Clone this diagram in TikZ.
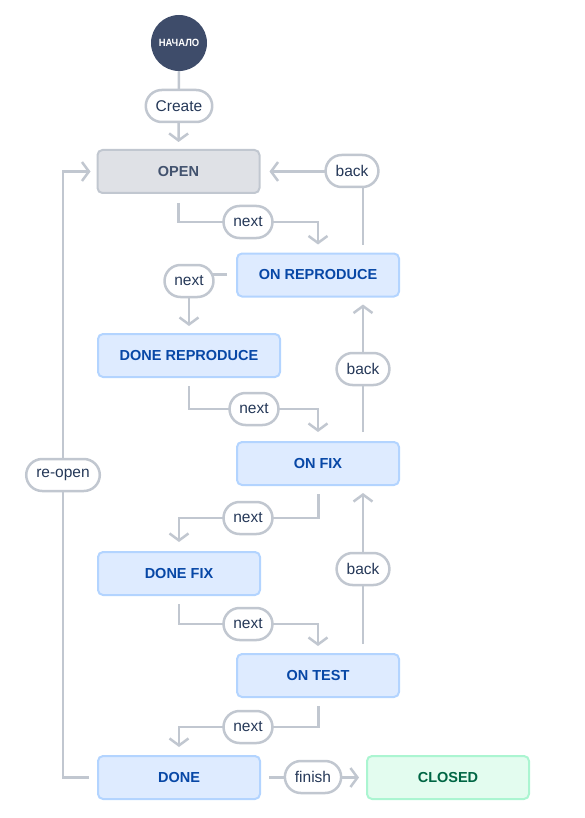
\documentclass[tikz,border=0pt]{standalone}
\usepackage{fontspec}
\setmainfont{Liberation Sans}
\usetikzlibrary{arrows.meta,shapes.misc}

\definecolor{linegray}{HTML}{C1C7D0}
\definecolor{navy}{HTML}{253858}
\definecolor{slate}{HTML}{42526E}
\definecolor{startfill}{HTML}{3E4C6A}
\definecolor{openfill}{HTML}{DFE1E6}
\definecolor{bluefill}{HTML}{DEEBFF}
\definecolor{blueline}{HTML}{B3D4FF}
\definecolor{bluetext}{HTML}{0747A6}
\definecolor{greenfill}{HTML}{E3FCEF}
\definecolor{greenline}{HTML}{ABF5D1}
\definecolor{greentext}{HTML}{006644}

\tikzset{
  state/.style={draw=blueline, fill=bluefill, line width=2pt, rounded corners=5pt,
    minimum width=162pt, minimum height=43pt, inner sep=0pt,
    text=bluetext, font=\fontsize{14.5pt}{16pt}\selectfont\bfseries},
  openstate/.style={state, draw=linegray, fill=openfill, text=slate},
  donestate/.style={state, draw=greenline, fill=greenfill, text=greentext},
  pill/.style={rounded rectangle, draw=linegray, fill=white, line width=2.5pt,
    minimum height=32pt, inner xsep=9pt, inner ysep=0pt, text=navy,
    font=\fontsize{15.5pt}{17pt}\selectfont},
  conn/.style={draw=linegray, line width=2.5pt},
  arr/.style={conn, -{Straight Barb[length=7pt, width=19pt, line width=2.5pt]}},
}

\begin{document}
\begin{tikzpicture}[x=1pt, y=-1pt]
  \useasboundingbox (0,0) rectangle (585,818);

  % start marker
  \node[circle, fill=startfill, minimum size=56pt, inner sep=0pt, text=white,
        font=\fontsize{10.5pt}{11pt}\selectfont\bfseries] (start) at (179,43)
        {\scalebox{0.9}[1]{НАЧАЛО}};

  % states
  \node[openstate] (open)    at (178.5,171.5) {OPEN};
  \node[state]     (onrep)   at (318,275)   {ON REPRODUCE};
  \node[state, minimum width=182pt] (donerep) at (189,355.5) {DONE REPRODUCE};
  \node[state]     (onfix)   at (318,463.5) {ON FIX};
  \node[state]     (donefix) at (179,573.5) {DONE FIX};
  \node[state]     (ontest)  at (318,675.5) {ON TEST};
  \node[state]     (done)    at (179,777.5) {DONE};
  \node[donestate] (closed)  at (448,777.5) {CLOSED};

  % label positions along the transitions
  \coordinate (pcreate)  at (179,106);
  \coordinate (pnext1)   at (248,222);
  \coordinate (pback1)   at (352,171);
  \coordinate (pnext2)   at (189,281);
  \coordinate (pnext3)   at (254,409);
  \coordinate (pback2)   at (363,369);
  \coordinate (pnext4)   at (248,518);
  \coordinate (pback3)   at (363,569);
  \coordinate (pnext5)   at (248,624);
  \coordinate (pnext6)   at (248,727);
  \coordinate (pfinish)  at (313,777);
  \coordinate (preopen)  at (63,475);

  % connectors (yshift is in page direction: negative moves down)
  \draw[arr, shorten >=7pt] (start.south) -- (open.north);
  \draw[arr, shorten >=8pt] ([yshift=-9pt]open.south) |- (pnext1) -| (onrep.north);
  \draw[arr, shorten >=9pt] ([xshift=45pt, yshift=8pt]onrep.north) |- (open.east);
  \draw[arr, shorten >=7pt] ([xshift=-9pt, yshift=0.5pt]onrep.west) -| (donerep.north);
  \draw[arr, shorten >=9pt] ([yshift=-8pt]donerep.south) |- (pnext3) -| (onfix.north);
  \draw[arr, shorten >=7pt] ([xshift=45pt, yshift=9pt]onfix.north) -- ([xshift=45pt]onrep.south);
  \draw[arr, shorten >=9pt] ([xshift=0.5pt, yshift=-8pt]onfix.south) |- (pnext4) -| (donefix.north);
  \draw[arr, shorten >=7pt] ([xshift=45pt, yshift=9pt]ontest.north) -- ([xshift=45pt]onfix.south);
  \draw[arr, shorten >=7pt] ([yshift=-8pt]donefix.south) |- (pnext5) -| (ontest.north);
  \draw[arr, shorten >=8pt] ([xshift=0.5pt, yshift=-8pt]ontest.south) |- (pnext6) -| (done.north);
  \draw[arr, shorten >=7pt] ([xshift=8pt]done.east) -- (closed.west);
  \draw[arr, shorten >=6pt] ([xshift=-8pt]done.west) -| (preopen) |- (open.west);

  % labels on top of the connectors
  \node[pill] (create) at (pcreate) {Create};
  \node[pill] (next1)  at (pnext1)  {next};
  \node[pill] (back1)  at (pback1)  {back};
  \node[pill] (next2)  at (pnext2)  {next};
  \node[pill] (next3)  at (pnext3)  {next};
  \node[pill] (back2)  at (pback2)  {back};
  \node[pill] (next4)  at (pnext4)  {next};
  \node[pill] (back3)  at (pback3)  {back};
  \node[pill] (next5)  at (pnext5)  {next};
  \node[pill] (next6)  at (pnext6)  {next};
  \node[pill] (finish) at (pfinish) {finish};
  \node[pill] (reopen) at (preopen) {re-open};
\end{tikzpicture}
\end{document}
